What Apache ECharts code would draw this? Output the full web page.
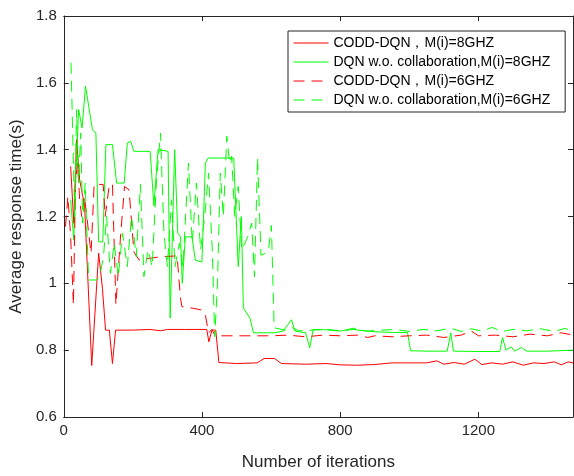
<!DOCTYPE html>
<html>
<head>
<meta charset="utf-8">
<script src="https://cdn.jsdelivr.net/npm/echarts@6/dist/echarts.min.js"></script>
<style>
html,body{margin:0;padding:0;background:#fff;}
#chart{width:574px;height:476px;}
</style>
</head>
<body>
<div id="chart"></div>
<script>
// Series names
const seriesNames = [
  'CODD-DQN，M(i)=8GHZ',
  'DQN w.o. collaboration,M(i)=8GHZ',
  'CODD-DQN，M(i)=6GHZ',
  'DQN w.o. collaboration,M(i)=6GHZ'
];

// Axis ticks
const xTicks = [0, 400, 800, 1200];
const yTicks = [0.6, 0.8, 1, 1.2, 1.4, 1.6, 1.8];

// [iteration, average response time]
const coddDqn8 = [
  [20,1.35],[29,1.18],[37,1.43],[46,1.31],[55,1.26],[60,1.24],[81,0.754],[101,1.09],
  [112,0.985],[121,0.86],[132,0.86],[141,0.76],[150,0.86],[200,0.86],[250,0.862],
  [280,0.858],[300,0.862],[350,0.862],[400,0.862],[414,0.862],[420,0.825],[429,0.86],
  [440,0.86],[449,0.763],[500,0.76],[560,0.762],[580,0.775],[610,0.775],[630,0.76],
  [700,0.758],[760,0.76],[800,0.756],[850,0.755],[900,0.757],[950,0.762],[1000,0.762],
  [1050,0.762],[1080,0.768],[1100,0.758],[1130,0.763],[1160,0.758],[1190,0.773],
  [1210,0.757],[1240,0.762],[1270,0.758],[1300,0.765],[1330,0.755],[1360,0.762],
  [1390,0.76],[1420,0.765],[1440,0.756],[1460,0.765],[1474,0.762]
];

const dqnNoCollab8 = [
  [20,1.25],[29,1.13],[35,1.32],[43,1.52],[53,1.465],[63,1.59],[83,1.46],[93,1.45],
  [101,1.124],[113,1.124],[122,1.415],[141,1.415],[153,1.3],[175,1.3],[184,1.42],
  [194,1.425],[203,1.395],[250,1.395],[261,1.232],[273,1.4],[302,1.395],[308,0.896],
  [321,1.4],[330,1.15],[338,1.14],[343,1.0],[352,1.139],[371,1.139],[381,1.069],
  [400,1.064],[410,1.36],[418,1.375],[492,1.375],[496,1.37],[505,1.05],[514,1.2],
  [520,0.926],[539,0.896],[549,0.852],[610,0.852],[635,0.857],[659,0.891],[669,0.857],
  [700,0.852],[712,0.807],[722,0.862],[760,0.861],[800,0.857],[840,0.866],[850,0.86],
  [900,0.855],[960,0.853],[995,0.853],[1004,0.798],[1060,0.797],[1110,0.797],
  [1120,0.852],[1128,0.797],[1200,0.796],[1262,0.796],[1270,0.838],[1280,0.8],
  [1295,0.81],[1305,0.797],[1325,0.808],[1340,0.797],[1400,0.797],[1474,0.8]
];

const coddDqn6 = [
  [5,1.17],[12,1.26],[20,1.14],[28,0.935],[34,1.3],[40,1.36],[46,1.25],[52,1.2],
  [60,1.26],[79,1.09],[88,1.296],[114,1.296],[120,1.2],[132,1.296],[141,1.296],
  [151,0.936],[165,1.15],[176,1.29],[189,1.28],[203,1.094],[218,1.07],[242,1.074],
  [285,1.08],[328,1.082],[338,0.955],[342,0.93],[371,0.926],[400,0.92],[410,0.905],
  [419,0.852],[429,0.862],[438,0.843],[500,0.843],[600,0.843],[650,0.845],[700,0.84],
  [750,0.845],[800,0.843],[850,0.845],[880,0.838],[900,0.843],[950,0.84],[1000,0.843],
  [1050,0.845],[1100,0.838],[1150,0.845],[1180,0.857],[1200,0.843],[1250,0.845],
  [1300,0.84],[1350,0.848],[1400,0.843],[1440,0.852],[1474,0.845]
];

const dqnNoCollab6 = [
  [21,1.66],[27,1.4],[32,1.2],[37,1.52],[43,1.3],[49,1.45],[55,1.18],[62,1.3],
  [72,1.01],[95,1.01],[104,1.02],[115,1.08],[124,1.2],[135,1.03],[146,1.12],
  [158,1.02],[170,1.15],[184,1.05],[196,1.2],[210,1.08],[222,1.296],[232,1.02],
  [244,1.1],[256,1.05],[268,1.3],[280,1.45],[290,1.15],[300,1.05],[312,1.25],
  [322,1.05],[335,1.12],[345,1.05],[361,1.36],[372,1.12],[384,1.3],[396,1.1],
  [408,1.2],[419,1.33],[430,1.1],[437,0.84],[445,1.0],[453,1.33],[462,1.2],
  [472,1.44],[480,1.36],[486,1.38],[495,1.2],[505,1.29],[515,1.1],[530,1.133],
  [544,1.18],[552,1.02],[561,1.375],[571,1.084],[592,1.094],[601,1.173],[609,0.867],
  [640,0.86],[660,0.868],[680,0.858],[720,0.86],[760,0.862],[800,0.858],[840,0.862],
  [880,0.857],[920,0.86],[960,0.862],[1000,0.856],[1040,0.862],[1080,0.858],
  [1120,0.866],[1150,0.856],[1180,0.864],[1210,0.857],[1240,0.868],[1270,0.856],
  [1300,0.862],[1340,0.858],[1380,0.864],[1420,0.856],[1450,0.865],[1474,0.858]
];

const xMax = 1474;
const font = 'Liberation Sans, Arial, Helvetica, sans-serif';
const axisColor = '#262626';
const dash = [11, 7];

const chart = echarts.init(document.getElementById('chart'), null, {renderer: 'canvas'});

function lineSeries(name, data, color, dashed) {
  return {
    name: name,
    type: 'line',
    data: data,
    showSymbol: false,
    symbol: 'none',
    animation: false,
    lineStyle: {color: color, width: 1, type: dashed ? dash : 'solid'},
    itemStyle: {color: color}
  };
}

const legendColors = ['#ff0000', '#00ff00', '#ff0000', '#00ff00'];
const legendDashed = [false, false, true, true];

const option = {
  animation: false,
  backgroundColor: '#fff',
  grid: {left: 61, top: 16, right: 1, bottom: 56, containLabel: false},
  legend: {
    orient: 'vertical',
    left: 288,
    top: 31,
    padding: [5, 15, 5, 5],
    itemWidth: 35,
    itemHeight: 14,
    itemGap: 5,
    backgroundColor: '#fff',
    borderColor: '#262626',
    borderWidth: 1,
    itemStyle: {opacity: 0},
    textStyle: {fontFamily: font, fontSize: 14, color: '#000'},
    data: seriesNames.map((n, i) => ({
      name: n,
      itemStyle: {opacity: 0},
      lineStyle: {color: legendColors[i], width: 1, type: legendDashed[i] ? dash : 'solid', opacity: 1}
    }))
  },
  xAxis: [{
    type: 'value', min: 0, max: xMax, interval: 400,
    position: 'bottom',
    axisLine: {show: true, onZero: false, lineStyle: {color: axisColor, width: 1}},
    axisTick: {show: true, inside: true, length: 5, lineStyle: {color: axisColor}},
    axisLabel: {fontFamily: font, fontSize: 15, color: axisColor, margin: 6, showMaxLabel: false,
      formatter: v => xTicks.indexOf(v) >= 0 ? String(v) : ''},
    splitLine: {show: false},
    name: 'Number of iterations',
    nameLocation: 'middle',
    nameGap: 37,
    nameTextStyle: {fontFamily: font, fontSize: 17, color: axisColor}
  }, {
    type: 'value', min: 0, max: xMax, interval: 400,
    position: 'top',
    axisLine: {show: true, onZero: false, lineStyle: {color: axisColor, width: 1}},
    axisTick: {show: true, inside: true, length: 5, lineStyle: {color: axisColor}},
    axisLabel: {show: false},
    splitLine: {show: false}
  }],
  yAxis: [{
    type: 'value', min: 0.6, max: 1.8, interval: 0.2,
    position: 'left',
    axisLine: {show: true, onZero: false, lineStyle: {color: axisColor, width: 1}},
    axisTick: {show: true, inside: true, length: 5, lineStyle: {color: axisColor}},
    axisLabel: {fontFamily: font, fontSize: 15, color: axisColor, margin: 7,
      formatter: v => {
        const t = yTicks.find(k => Math.abs(k - v) < 1e-6);
        return t === undefined ? '' : String(t);
      }},
    splitLine: {show: false},
    name: 'Average response time(s)',
    nameLocation: 'middle',
    nameGap: 28,
    nameRotate: 90,
    nameTextStyle: {fontFamily: font, fontSize: 17, color: axisColor}
  }, {
    type: 'value', min: 0.6, max: 1.8, interval: 0.2,
    position: 'right',
    axisLine: {show: true, onZero: false, lineStyle: {color: axisColor, width: 1}},
    axisTick: {show: true, inside: true, length: 5, lineStyle: {color: axisColor}},
    axisLabel: {show: false},
    splitLine: {show: false}
  }],
  series: [
    lineSeries(seriesNames[0], coddDqn8, '#ff0000', false),
    lineSeries(seriesNames[1], dqnNoCollab8, '#00ff00', false),
    lineSeries(seriesNames[2], coddDqn6, '#ff0000', true),
    lineSeries(seriesNames[3], dqnNoCollab6, '#00ff00', true)
  ]
};
chart.setOption(option);
</script>
</body>
</html>
